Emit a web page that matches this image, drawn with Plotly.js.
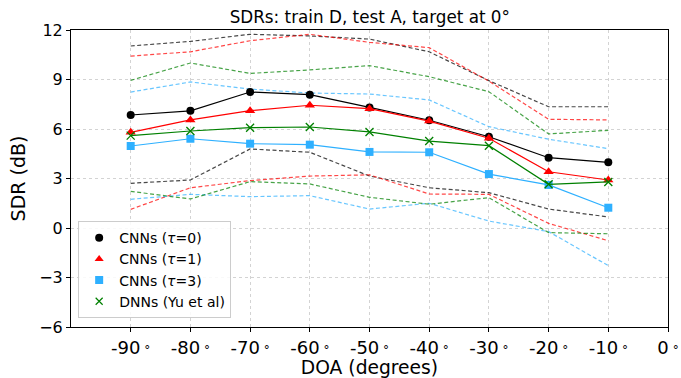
<!DOCTYPE html>
<html><head><meta charset="utf-8">
<script src="https://cdn.plot.ly/plotly-3.0.1.min.js"></script>
<style>body{margin:0;padding:0;background:#fff}#chart{width:681px;height:378px}</style>
</head><body><div id="chart"></div>
<script>
const doa = [-90, -80, -70, -60, -50, -40, -30, -20, -10];
const xTickVals = [-90, -80, -70, -60, -50, -40, -30, -20, -10, 0];
const xTickNums = ['-90', '-80', '-70', '-60', '-50', '-40', '-30', '-20', '-10', '0'];
const yTickVals = [-6, -3, 0, 3, 6, 9, 12];

const cnn0 = [6.85, 7.1, 8.24, 8.08, 7.31, 6.53, 5.53, 4.26, 3.98];
const cnn0Hi = [11.03, 11.31, 11.74, 11.64, 11.45, 10.68, 8.93, 7.35, 7.35];
const cnn0Lo = [2.71, 2.91, 4.79, 4.59, 3.15, 2.44, 2.14, 1.15, 0.67];

const cnn1 = [5.8, 6.55, 7.11, 7.44, 7.23, 6.48, 5.44, 3.41, 2.91];
const cnn1Hi = [10.42, 10.68, 11.35, 11.74, 11.25, 10.93, 8.9, 6.59, 6.55];
const cnn1Lo = [1.13, 2.44, 2.87, 3.15, 3.22, 2.06, 2.04, 0.28, -0.77];

const cnn3 = [4.97, 5.41, 5.11, 5.05, 4.61, 4.59, 3.27, 2.61, 1.23];
const cnn3Hi = [8.24, 8.85, 8.42, 8.18, 8.12, 7.76, 6.14, 5.38, 4.81];
const cnn3Lo = [1.74, 2.04, 1.90, 1.96, 1.15, 1.5, 0.42, -0.22, -2.28];

const dnn = [5.6, 5.88, 6.08, 6.12, 5.82, 5.27, 4.99, 2.65, 2.79];
const dnnHi = [8.95, 10.0, 9.37, 9.58, 9.84, 9.17, 8.26, 5.70, 5.92];
const dnnLo = [2.22, 1.76, 2.81, 2.67, 1.86, 1.44, 1.84, -0.28, -0.35];

const names = ['CNNs (<i>τ</i>=0)', 'CNNs (<i>τ</i>=1)', 'CNNs (<i>τ</i>=3)', 'DNNs (Yu et al)'];
const colors = ['#000000', '#ff0000', '#2eb0ff', '#008000'];
const symbols = ['circle', 'triangle-up', 'square', 'x-thin-open'];
const sizes = [8, 9, 8, 8];
const means = [cnn0, cnn1, cnn3, dnn];
const his = [cnn0Hi, cnn1Hi, cnn3Hi, dnnHi];
const los = [cnn0Lo, cnn1Lo, cnn3Lo, dnnLo];

const xTickText = xTickNums.map(s => s + '<span style="font-size:12px"> °</span>');

const traces = [];
for (let i = 0; i < 4; i++) {
  [his[i], los[i]].forEach(arr => traces.push({
    x: doa, y: arr, mode: 'lines', showlegend: false, hoverinfo: 'skip',
    line: {color: colors[i], width: 1.2, dash: '4px,2.5px'}, opacity: 0.72
  }));
}
for (let i = 0; i < 4; i++) {
  traces.push({
    x: doa, y: means[i], mode: 'lines+markers', name: names[i], showlegend: false,
    line: {color: colors[i], width: 1.2},
    marker: {symbol: symbols[i], size: sizes[i], color: colors[i],
             line: {color: colors[i], width: i === 3 ? 1.3 : 0}}
  });
}
// legend entries (marker only, as in reference)
for (let i = 0; i < 4; i++) {
  traces.push({
    x: [null], y: [null], mode: 'markers', name: names[i], showlegend: true,
    marker: {symbol: symbols[i], size: i === 3 ? 7 : 8, color: colors[i],
             line: {color: colors[i], width: i === 3 ? 1.2 : 0}}
  });
}

const axisCommon = {
  showline: true, linecolor: '#000', linewidth: 1, mirror: true,
  ticks: 'outside', ticklen: 4, tickcolor: '#000',
  showgrid: true, gridcolor: '#c8c8c8', griddash: 'dot', gridwidth: 0.8,
  zeroline: false
};

const layout = {
  width: 681, height: 378,
  margin: {l: 71, r: 13, t: 30, b: 51},
  paper_bgcolor: '#fff', plot_bgcolor: '#fff',
  font: {family: 'DejaVu Sans, sans-serif', color: '#000'},
  title: {text: 'SDRs: train D, test A, target at 0°', font: {size: 16.8, color: '#000'},
          x: 0.543, xanchor: 'center', y: 0.955, yanchor: 'middle'},
  xaxis: Object.assign({}, axisCommon, {
    range: [-100, 0], tickvals: xTickVals, ticktext: xTickText,
    tickfont: {size: 18, color: '#000'},
    title: {text: 'DOA (degrees)', font: {size: 18.7, color: '#000'}, standoff: 2}
  }),
  yaxis: Object.assign({}, axisCommon, {
    range: [-6, 12], tickvals: yTickVals,
    tickfont: {size: 16, color: '#000'},
    title: {text: 'SDR (dB)', font: {size: 19, color: '#000'}, standoff: 8}
  }),
  legend: {
    x: 0.012, y: 0.03, xanchor: 'left', yanchor: 'bottom',
    bgcolor: 'rgba(255,255,255,0.85)', bordercolor: '#cccccc', borderwidth: 1,
    font: {size: 14, color: '#000'}, tracegroupgap: 0, itemwidth: 30
  },
  showlegend: true
};

Plotly.newPlot('chart', traces, layout, {displayModeBar: false, staticPlot: true});
</script></body></html>
